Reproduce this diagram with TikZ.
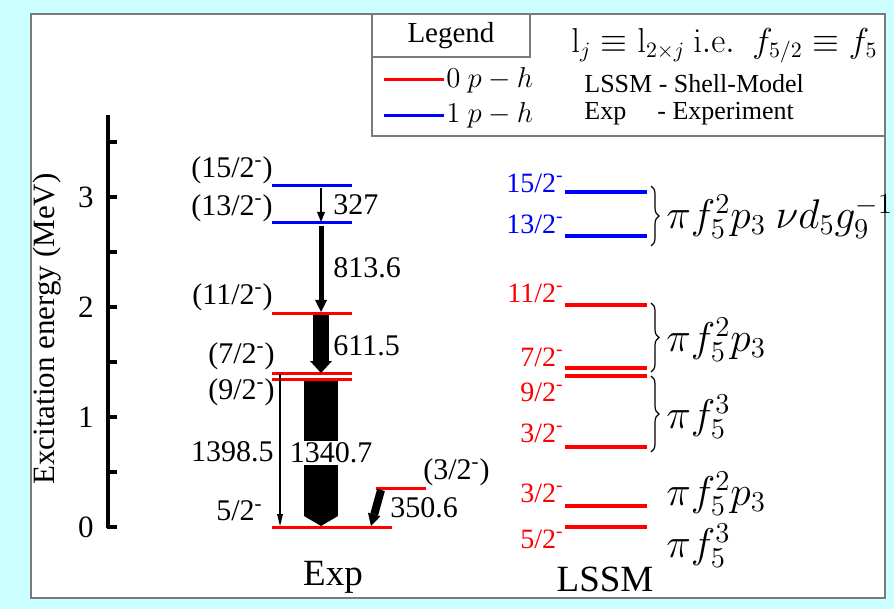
\documentclass[tikz,border=0pt]{standalone}
\usepackage[no-math]{fontspec}
\setmainfont{Liberation Serif}
\usetikzlibrary{arrows.meta,decorations.pathreplacing}
\definecolor{bgcyan}{HTML}{CCFFFF}
\definecolor{framegray}{HTML}{7A7A7A}
\newcommand{\jp}[1]{#1\textsuperscript{-}}

\begin{document}
\begin{tikzpicture}[x=0.5pt,y=-0.5pt,
  explev/.style={line width=1.5pt},
  thlev/.style={line width=2pt},
  lbl/.style={font=\fontsize{15}{17}\selectfont, inner sep=0pt},
  thlbl/.style={font=\fontsize{14}{16}\selectfont, inner sep=0pt, anchor=east},
  conf/.style={font=\fontsize{19.5}{22}\selectfont, inner sep=0pt, anchor=west},
  leg/.style={font=\fontsize{13}{15}\selectfont, inner sep=0pt, anchor=west},
  cbrace/.style={decorate, decoration={brace, amplitude=4pt}, line width=0.6pt}
]

  % ---- background and frame ----
  \fill[bgcyan] (0,0) rectangle (894,609);
  \filldraw[fill=white, draw=framegray, line width=0.8pt] (31,14) rectangle (885,598);

  % ---- legend ----
  \draw[framegray, line width=0.6pt] (372,14) rectangle (885,136);
  \draw[framegray, line width=0.6pt] (372,14) rectangle (530,57);
  \node[leg, font=\fontsize{14.5}{16}\selectfont, anchor=center] (legtitle) at (451,36) {Legend};
  \coordinate (lr0) at (384,80);
  \coordinate (lr1) at (444,80);
  \coordinate (lb0) at (384,116);
  \coordinate (lb1) at (444,116);
  \draw[red, line width=1.5pt] (lr0) -- (lr1);
  \draw[blue, line width=1.5pt] (lb0) -- (lb1);
  \node[leg, font=\fontsize{14}{16}\selectfont] (leg0) at (446,80) {$0\ p-h$};
  \node[leg, font=\fontsize{14}{16}\selectfont] (leg1) at (446,115) {$1\ p-h$};
  \node[leg, font=\fontsize{16}{18}\selectfont] (legnote) at (571,46)
    {$\mathrm{l}_j\equiv\mathrm{l}_{2\times j}\ \mathrm{i.e.}\ \;f_{5/2}\equiv f_5$};
  \node[leg] (legth) at (584,84) {LSSM - Shell-Model};
  \node[leg] (legexp) at (584,114) {Exp};
  \node[leg] (legexpb) at (657,114) {- Experiment};

  % ---- energy axis: 110 px per MeV, 0 at y=527 ----
  \draw[line width=2pt] (108,115) -- (108,528);
  \foreach \e in {0,0.5,...,3.5}
    \draw[line width=2pt] (107,527-110*\e) -- (117,527-110*\e);
  \foreach \e in {0,1,2,3}
    \node[lbl, font=\fontsize{15.5}{17}\selectfont, anchor=east] (tick\e) at (94,527-110*\e) {\e};
  \node[lbl, font=\fontsize{15.5}{17}\selectfont, rotate=90] (ylabel) at (47,329) {Excitation energy (MeV)};

  % ---- experimental levels ----
  \draw[explev, blue] (272,186) -- (352,186);
  \draw[explev, blue] (272,223) -- (352,223);
  \draw[explev, red]  (272,313) -- (352,313);
  \draw[explev, red]  (272,373) -- (352,373);
  \draw[explev, red]  (272,379) -- (352,379);
  \draw[explev, red]  (272,527) -- (392,527);
  \draw[explev, red]  (376,488) -- (426,488);

  \node[lbl, anchor=east] (x15) at (273,170) {(\jp{15/2})};
  \node[lbl, anchor=east] (x13) at (273,208) {(\jp{13/2})};
  \node[lbl, anchor=east] (x11) at (273,297) {(\jp{11/2})};
  \node[lbl, anchor=east] (x7)  at (275,356) {(\jp{7/2})};
  \node[lbl, anchor=east] (x9)  at (275,392) {(\jp{9/2})};
  \node[lbl, anchor=east] (x5)  at (263,511) {\jp{5/2}};
  \node[lbl, anchor=west] (x3)  at (423,472) {(\jp{3/2})};

  % ---- gamma transitions ----
  \coordinate (g15) at (321,188);
  \coordinate (g13a) at (321,222);
  \coordinate (g13b) at (321,226);
  \coordinate (g11a) at (321,312);
  \coordinate (g11b) at (321,315);
  \coordinate (g7) at (321,373);
  \coordinate (g9) at (321,381);
  \coordinate (g5) at (321,526);
  \coordinate (h7) at (280,374);
  \coordinate (h5) at (280,526);
  \coordinate (k3) at (381,490);
  \coordinate (k5) at (371,526);
  \draw[line width=1.2pt, -{Triangle[width=4pt,length=5pt,line width=0pt]}] (g15) -- (g13a);
  \draw[line width=2.5pt, -{Triangle[width=6pt,length=6pt,line width=0pt]}] (g13b) -- (g11a);
  \draw[line width=8pt, -{Triangle[width=11pt,length=6pt,line width=0pt]}] (g11b) -- (g7);
  \draw[line width=17pt, -{Triangle[width=17pt,length=5pt,line width=0pt]}] (g9) -- (g5);
  \draw[line width=0.8pt, -{Triangle[width=3pt,length=6pt,line width=0pt]}] (h7) -- (h5);
  \draw[line width=4pt, -{Triangle[width=6.5pt,length=6pt,line width=0pt]}] (k3) -- (k5);

  \node[lbl, anchor=west] (t327) at (333,205) {327};
  \node[lbl, anchor=west] (t813) at (333,268) {813.6};
  \node[lbl, anchor=west] (t611) at (333,346) {611.5};
  \node[lbl, anchor=east] (t1398) at (274,452) {1398.5};
  \node[lbl, fill=white, inner sep=1pt] (t1340) at (331,453) {1340.7};
  \node[lbl, anchor=west] (t350) at (390,508) {350.6};

  % ---- shell-model levels ----
  \draw[thlev, blue] (565,192) -- (647,192);
  \draw[thlev, blue] (565,236) -- (647,236);
  \draw[thlev, red]  (565,305) -- (647,305);
  \draw[thlev, red]  (565,368) -- (647,368);
  \draw[thlev, red]  (565,376) -- (647,376);
  \draw[thlev, red]  (565,447) -- (647,447);
  \draw[thlev, red]  (565,506) -- (647,506);
  \draw[thlev, red]  (565,527) -- (647,527);

  \node[thlbl, blue] (s15) at (564,183) {\jp{15/2}};
  \node[thlbl, blue] (s13) at (564,224) {\jp{13/2}};
  \node[thlbl, red]  (s11) at (564,293) {\jp{11/2}};
  \node[thlbl, red]  (s7)  at (564,357) {\jp{7/2}};
  \node[thlbl, red]  (s9)  at (564,392) {\jp{9/2}};
  \node[thlbl, red]  (s3a) at (564,433) {\jp{3/2}};
  \node[thlbl, red]  (s3b) at (564,493) {\jp{3/2}};
  \node[thlbl, red]  (s5)  at (564,539) {\jp{5/2}};

  % ---- configurations ----
  \draw[cbrace] (651,186) -- (651,246);
  \draw[cbrace] (651,303) -- (651,372);
  \draw[cbrace] (651,376) -- (651,452);
  \node[conf] (c1) at (666,217) {$\pi f_5^2 p_3\ \nu d_5 g_9^{-1}$};
  \node[conf] (c2) at (666,340) {$\pi f_5^2 p_3$};
  \node[conf] (c3) at (666,417) {$\pi f_5^3$};
  \node[conf] (c4) at (666,494) {$\pi f_5^2 p_3$};
  \node[conf] (c5) at (666,546) {$\pi f_5^3$};

  % ---- column titles ----
  \node[lbl, font=\fontsize{18.5}{20}\selectfont] (expt) at (333,577) {Exp};
  \node[lbl, font=\fontsize{18.5}{20}\selectfont] (lssm) at (605,579) {LSSM};

\end{tikzpicture}
\end{document}
